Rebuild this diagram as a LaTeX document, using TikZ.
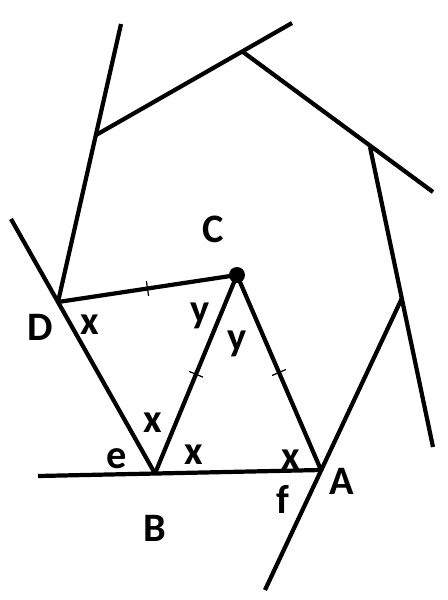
\documentclass[tikz,border=0pt]{standalone}
\usepackage{fontspec}
\setmainfont{Carlito}
\usepackage{tikz}

\begin{document}
\begin{tikzpicture}[x=0.02cm,y=-0.02cm,line width=2.4pt,
    lbl/.style={inner sep=0pt,font=\fontsize{23}{27}\selectfont\bfseries},
    tick/.style={sloped,draw,line width=0.7pt,inner sep=0pt,minimum width=0pt,minimum height=0.3cm}]
  \useasboundingbox (0,0) rectangle (448,600);

  % corners of the figure
  \coordinate (A) at (321,470);
  \coordinate (B) at (155,473.5);
  \coordinate (C) at (237,275);
  \coordinate (D) at (58,302);
  \coordinate (p1) at (96,135);
  \coordinate (p2) at (243,52);
  \coordinate (p3) at (370,147);
  \coordinate (p4) at (402,298);

  % free ends of the extended sides
  \coordinate (e1) at (121,24);
  \coordinate (e2) at (292,23);
  \coordinate (e3) at (433,192);
  \coordinate (e4) at (433,447);
  \coordinate (e5) at (265,590);
  \coordinate (e6) at (38,476);
  \coordinate (e7) at (11,219);

  \draw (A) -- (e6);
  \draw (B) -- (e7);
  \draw (D) -- (e1);
  \draw (p1) -- (e2);
  \draw (p2) -- (e3);
  \draw (p3) -- (e4);
  \draw (p4) -- (e5);

  \draw (D) -- node[tick] {} (C);
  \draw (C) -- node[tick] {} (B);
  \draw (C) -- node[tick] {} (A);
  \fill (C) circle (0.16cm);

  \node[lbl] (labC) at (213,229) {C};
  \node[lbl] (labD) at (40,327) {D};
  \node[lbl] (labA) at (342,481) {A};
  \node[lbl] (labB) at (155,528) {B};
  \node[lbl] (xD) at (90,325) {x};
  \node[lbl] (yl) at (200,316) {y};
  \node[lbl] (yr) at (237,344) {y};
  \node[lbl] (xBu) at (153,423) {x};
  \node[lbl] (xBr) at (194,455) {x};
  \node[lbl] (xA) at (291,460) {x};
  \node[lbl] (labe) at (117,459) {e};
  \node[lbl] (labf) at (283,499) {f};
\end{tikzpicture}
\end{document}
